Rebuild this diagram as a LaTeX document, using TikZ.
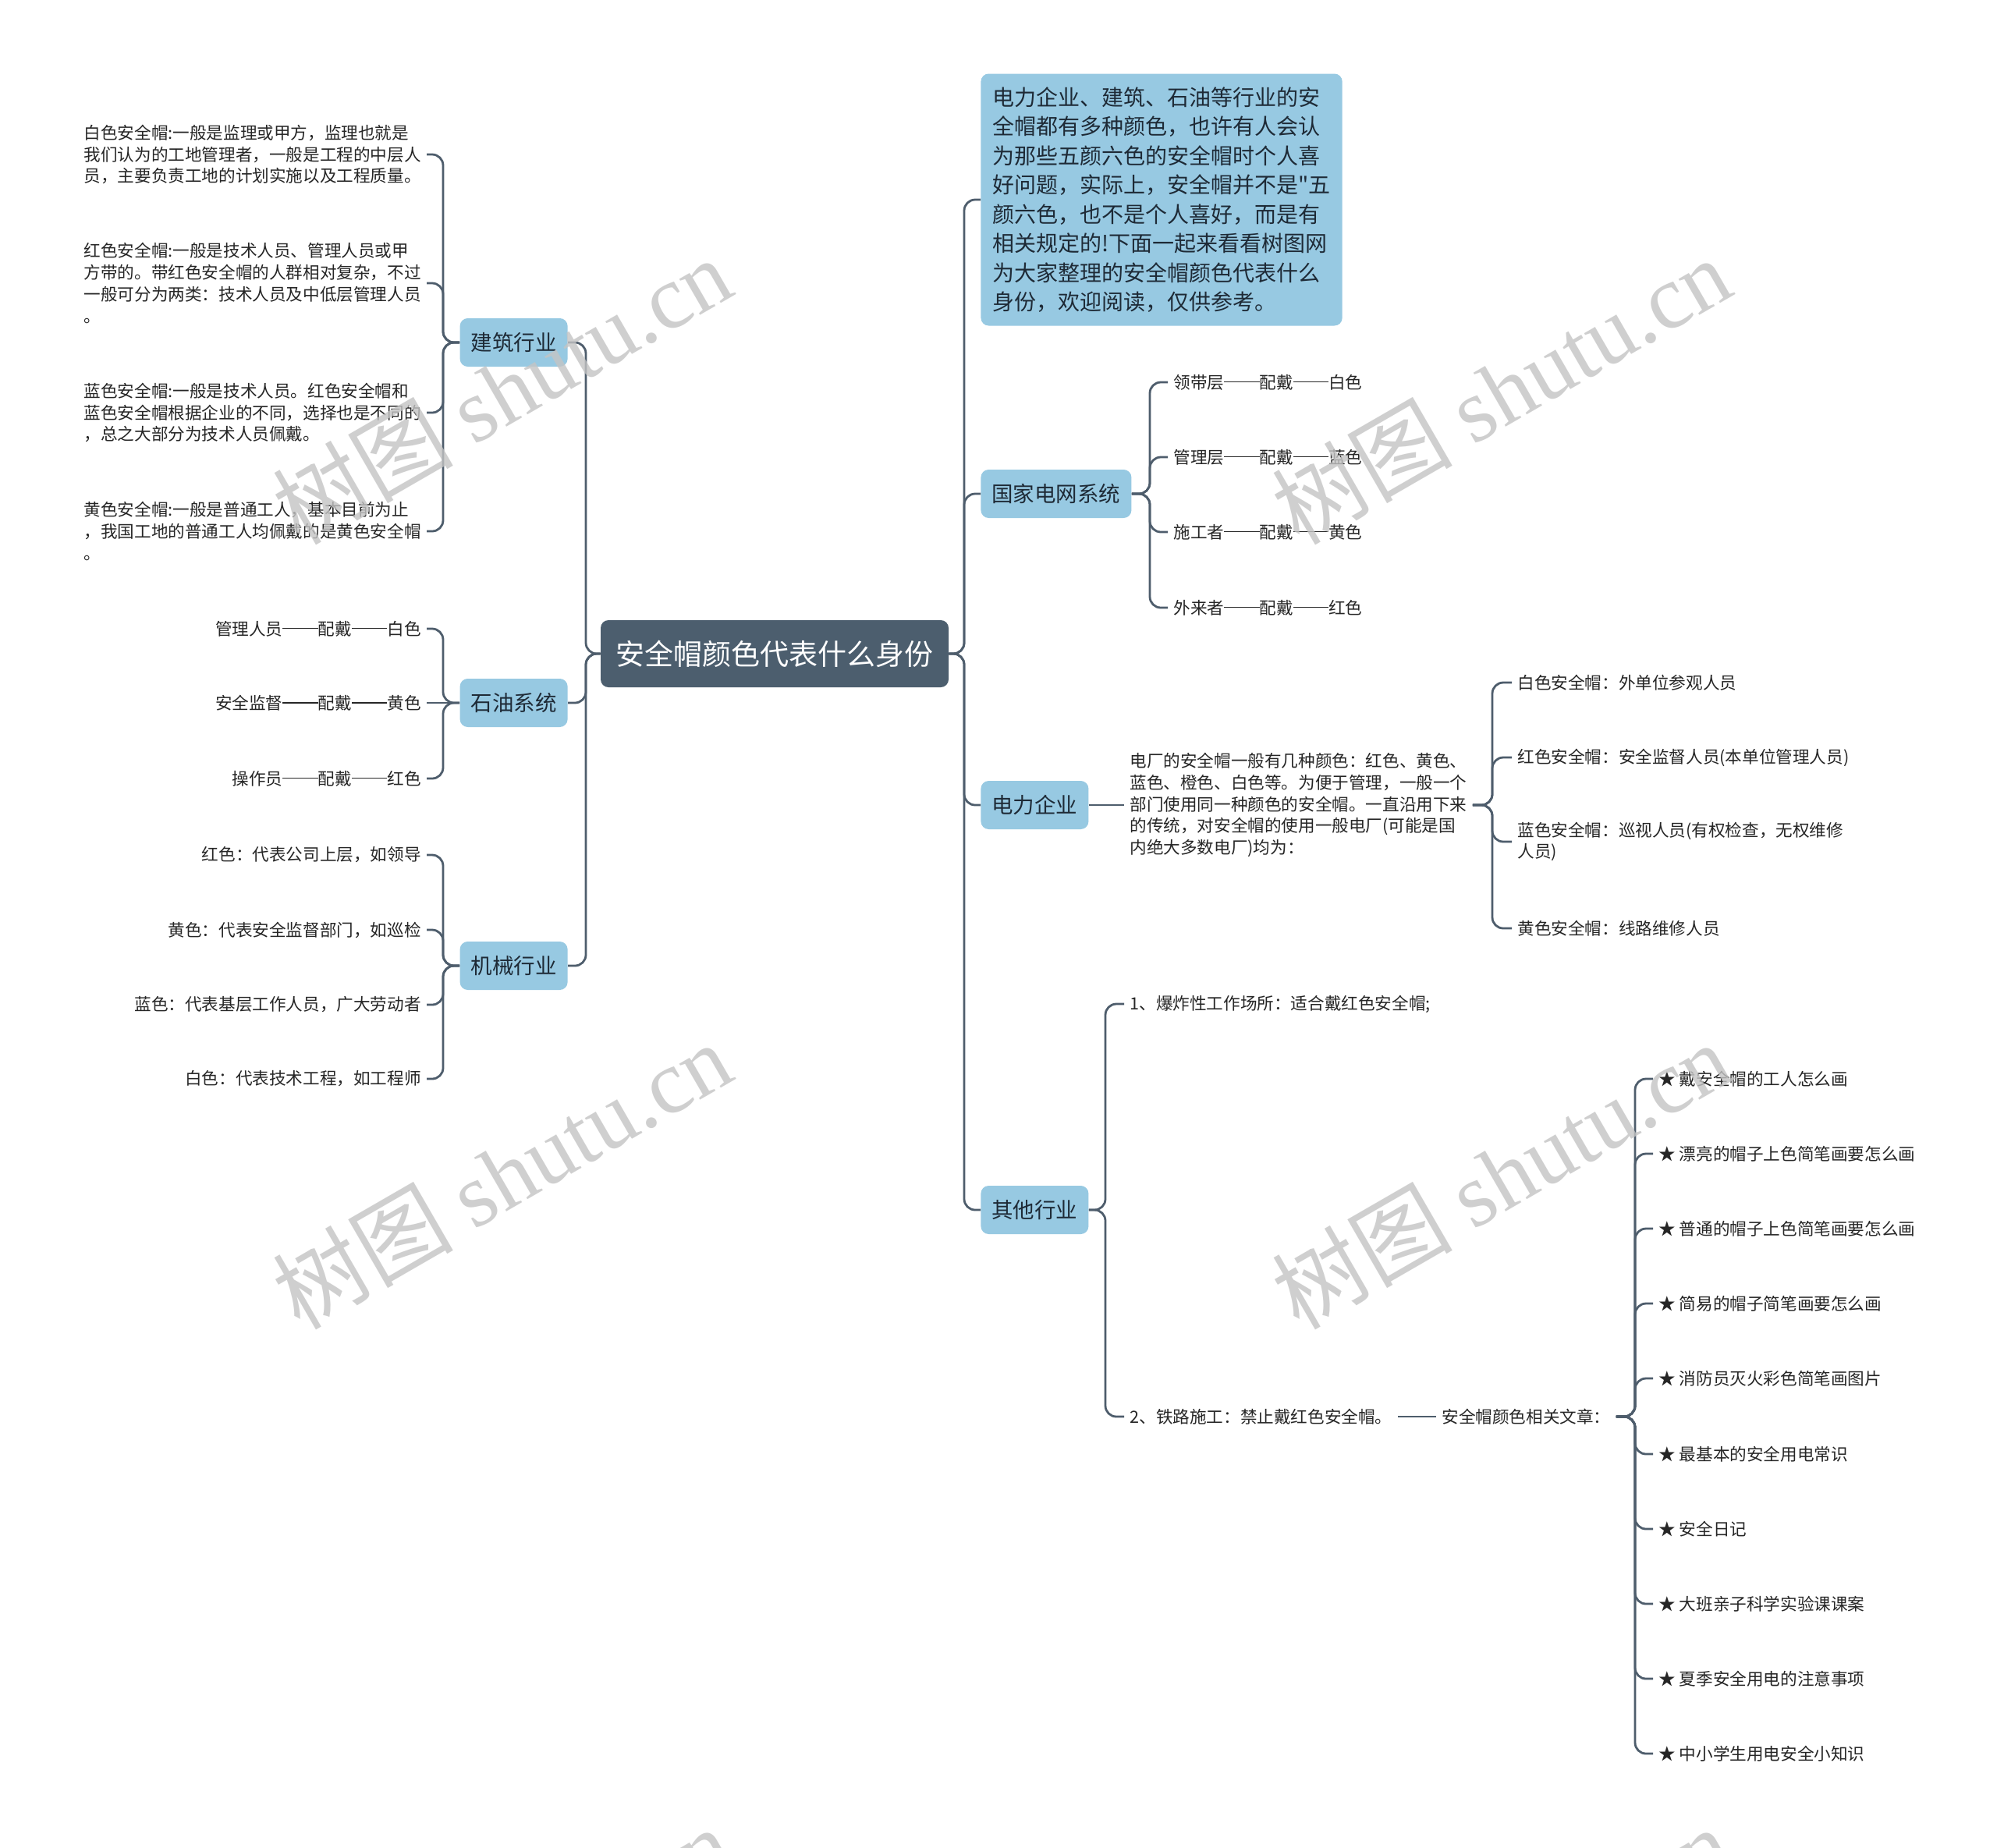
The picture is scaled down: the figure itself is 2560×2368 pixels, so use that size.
\documentclass[tikz,border=0pt]{standalone}
\usepackage{fontspec}
\newfontfamily\cjkf{Noto Sans CJK SC}
\setmainfont{Noto Sans CJK SC}
\newfontfamily\wmserif{Liberation Serif}
\newcommand{\mydash}{\rule[0.36em]{2.1em}{0.07em}}
\definecolor{rootc}{HTML}{4C5E6E}
\definecolor{lonec}{HTML}{97C9E2}
\definecolor{linec}{HTML}{4E5D6C}
\definecolor{txtc}{HTML}{262626}
\definecolor{ltxt}{HTML}{1E2A36}
\definecolor{wmc}{HTML}{C4C4C4}
\begin{document}
\begin{tikzpicture}[x=0.5pt,y=-0.5pt,
  rootbox/.style={fill=rootc,text=white,rounded corners=5pt,minimum width=223pt,minimum height=43pt,inner sep=0pt,font=\cjkf\fontsize{18.5pt}{22pt}\selectfont},
  lone/.style={fill=lonec,text=ltxt,rounded corners=5pt,minimum height=31pt,inner xsep=7pt,inner ysep=0pt,font=\cjkf\fontsize{13.75pt}{16pt}\selectfont},
  introbox/.style={fill=lonec,text=ltxt,rounded corners=5pt,align=left,inner xsep=7.5pt,inner ysep=8pt,minimum height=161.5pt,font=\cjkf\fontsize{14pt}{18.75pt}\selectfont},
  leaf/.style={text=txtc,inner xsep=3.5pt,inner ysep=0pt,font=\cjkf\fontsize{10.8pt}{13.9pt}\selectfont},
  conn/.style={draw=linec,line width=1.4pt,rounded corners=7pt},
  wm/.style={text=wmc,text opacity=0.8,font=\fontsize{58pt}{58pt}\selectfont,inner sep=0pt}
]
\useasboundingbox (0,0) rectangle (2560,2368);
\fill[white] (0,0) rectangle (2560,2368);

% root
\node[rootbox] (root) at (993,838) {安全帽颜色代表什么身份};

% left level 1
\node[lone,anchor=east] (jz) at (728,439) {建筑行业};
\node[lone,anchor=east] (sy) at (728,901) {石油系统};
\node[lone,anchor=east] (jx) at (728,1238) {机械行业};

% right level 1
\node[introbox,anchor=west] (intro) at (1257,256) {电力企业、建筑、石油等行业的安\\全帽都有多种颜色，也许有人会认\\为那些五颜六色的安全帽时个人喜\\好问题，实际上，安全帽并不是"五\\颜六色，也不是个人喜好，而是有\\相关规定的!下面一起来看看树图网\\为大家整理的安全帽颜色代表什么\\身份，欢迎阅读，仅供参考。};
\node[lone,anchor=west] (gj) at (1257,633) {国家电网系统};
\node[lone,anchor=west] (dl) at (1257,1032) {电力企业};
\node[lone,anchor=west] (qt) at (1257,1551) {其他行业};

% 建筑 leaves
\node[leaf,anchor=east,align=left] (jz1) at (547,198) {白色安全帽:一般是监理或甲方，监理也就是\\我们认为的工地管理者，一般是工程的中层人\\员，主要负责工地的计划实施以及工程质量。};
\node[leaf,anchor=east,align=left] (jz2) at (547,363) {红色安全帽:一般是技术人员、管理人员或甲\\方带的。带红色安全帽的人群相对复杂，不过\\一般可分为两类：技术人员及中低层管理人员\\。};
\node[leaf,anchor=east,align=left] (jz3) at (547,529) {蓝色安全帽:一般是技术人员。红色安全帽和\\蓝色安全帽根据企业的不同，选择也是不同的\\，总之大部分为技术人员佩戴。};
\node[leaf,anchor=east,align=left] (jz4) at (547,681) {黄色安全帽:一般是普通工人，基本目前为止\\，我国工地的普通工人均佩戴的是黄色安全帽\\。};

% 石油 leaves
\node[leaf,anchor=east] (sy1) at (547,806) {管理人员\mydash 配戴\mydash 白色};
\node[leaf,anchor=east] (sy2) at (547,901) {安全监督\mydash 配戴\mydash 黄色};
\node[leaf,anchor=east] (sy3) at (547,998) {操作员\mydash 配戴\mydash 红色};

% 机械 leaves
\node[leaf,anchor=east] (jx1) at (547,1096) {红色：代表公司上层，如领导};
\node[leaf,anchor=east] (jx2) at (547,1192) {黄色：代表安全监督部门，如巡检};
\node[leaf,anchor=east] (jx3) at (547,1288) {蓝色：代表基层工作人员，广大劳动者};
\node[leaf,anchor=east] (jx4) at (547,1383) {白色：代表技术工程，如工程师};

% 国家电网 leaves
\node[leaf,anchor=west] (gj1) at (1497,490) {领带层\mydash 配戴\mydash 白色};
\node[leaf,anchor=west] (gj2) at (1497,586) {管理层\mydash 配戴\mydash 蓝色};
\node[leaf,anchor=west] (gj3) at (1497,682) {施工者\mydash 配戴\mydash 黄色};
\node[leaf,anchor=west] (gj4) at (1497,779) {外来者\mydash 配戴\mydash 红色};

% 电力企业
\node[leaf,anchor=west,align=left] (dlp) at (1441,1032) {电厂的安全帽一般有几种颜色：红色、黄色、\\蓝色、橙色、白色等。为便于管理，一般一个\\部门使用同一种颜色的安全帽。一直沿用下来\\的传统，对安全帽的使用一般电厂(可能是国\\内绝大多数电厂)均为：};
\node[leaf,anchor=west] (dl1) at (1938,875) {白色安全帽：外单位参观人员};
\node[leaf,anchor=west] (dl2) at (1938,971) {红色安全帽：安全监督人员(本单位管理人员)};
\node[leaf,anchor=west,align=left] (dl3) at (1938,1079) {蓝色安全帽：巡视人员(有权检查，无权维修\\人员)};
\node[leaf,anchor=west] (dl4) at (1938,1190) {黄色安全帽：线路维修人员};

% 其他行业
\node[leaf,anchor=west] (qt1) at (1441,1287) {1、爆炸性工作场所：适合戴红色安全帽;};
\node[leaf,anchor=west] (qt2) at (1441,1816) {2、铁路施工：禁止戴红色安全帽。};
\node[leaf,anchor=west] (xg) at (1841,1816) {安全帽颜色相关文章：};
\node[leaf,anchor=west] (st1) at (2119,1383) {★ 戴安全帽的工人怎么画};
\node[leaf,anchor=west] (st2) at (2119,1479) {★ 漂亮的帽子上色简笔画要怎么画};
\node[leaf,anchor=west] (st3) at (2119,1575) {★ 普通的帽子上色简笔画要怎么画};
\node[leaf,anchor=west] (st4) at (2119,1671) {★ 简易的帽子简笔画要怎么画};
\node[leaf,anchor=west] (st5) at (2119,1767) {★ 消防员灭火彩色简笔画图片};
\node[leaf,anchor=west] (st6) at (2119,1864) {★ 最基本的安全用电常识};
\node[leaf,anchor=west] (st7) at (2119,1960) {★ 安全日记};
\node[leaf,anchor=west] (st8) at (2119,2056) {★ 大班亲子科学实验课课案};
\node[leaf,anchor=west] (st9) at (2119,2152) {★ 夏季安全用电的注意事项};
\node[leaf,anchor=west] (st10) at (2119,2248) {★ 中小学生用电安全小知识};

% connectors root
\foreach \c in {jz,sy,jx} \draw[conn] (root.west) -- (751,838) |- (\c.east);
\foreach \c in {intro,gj,dl,qt} \draw[conn] (root.east) -- (1236,838) |- (\c.west);

% 建筑
\foreach \c in {jz1,jz2,jz3,jz4} \draw[conn] (jz.west) -- (568,439) |- (\c.east);
% 石油
\draw[conn] (sy.west) -- (568,901) |- (sy1.east);
\draw[conn] (sy.west) -- (sy2.east);
\draw[conn] (sy.west) -- (568,901) |- (sy3.east);
% 机械
\foreach \c in {jx1,jx2,jx3,jx4} \draw[conn] (jx.west) -- (568,1238) |- (\c.east);
% 国家电网
\foreach \c in {gj1,gj2,gj3,gj4} \draw[conn] (gj.east) -- (1474,633) |- (\c.west);
% 电力企业
\draw[conn] (dl.east) -- (dlp.west);
\foreach \c in {dl1,dl2,dl3,dl4} \draw[conn] (dlp.east) -- (1913,1032) |- (\c.west);
% 其他行业
\foreach \c in {qt1,qt2} \draw[conn] (qt.east) -- (1417,1551) |- (\c.west);
\draw[conn] (qt2.east) -- (xg.west);
\foreach \c in {st1,st2,st3,st4,st5,st6,st7,st8,st9,st10} \draw[conn] (xg.east) -- (2096,1816) |- (\c.west);

% watermarks
\begin{scope}
\clip (0,0) rectangle (2560,2368);
\node[wm,rotate=30] (wm1) at (643,500) {\cjkf 树图 {\wmserif shutu.cn}};
\node[wm,rotate=30] (wm2) at (1924,500) {\cjkf 树图 {\wmserif shutu.cn}};
\node[wm,rotate=30] (wm3) at (643,1506) {\cjkf 树图 {\wmserif shutu.cn}};
\node[wm,rotate=30] (wm4) at (1924,1506) {\cjkf 树图 {\wmserif shutu.cn}};
\node[wm,rotate=30] (wm5) at (643,2512) {\cjkf 树图 {\wmserif shutu.cn}};
\node[wm,rotate=30] (wm6) at (1924,2512) {\cjkf 树图 {\wmserif shutu.cn}};
\end{scope}
\end{tikzpicture}
\end{document}
